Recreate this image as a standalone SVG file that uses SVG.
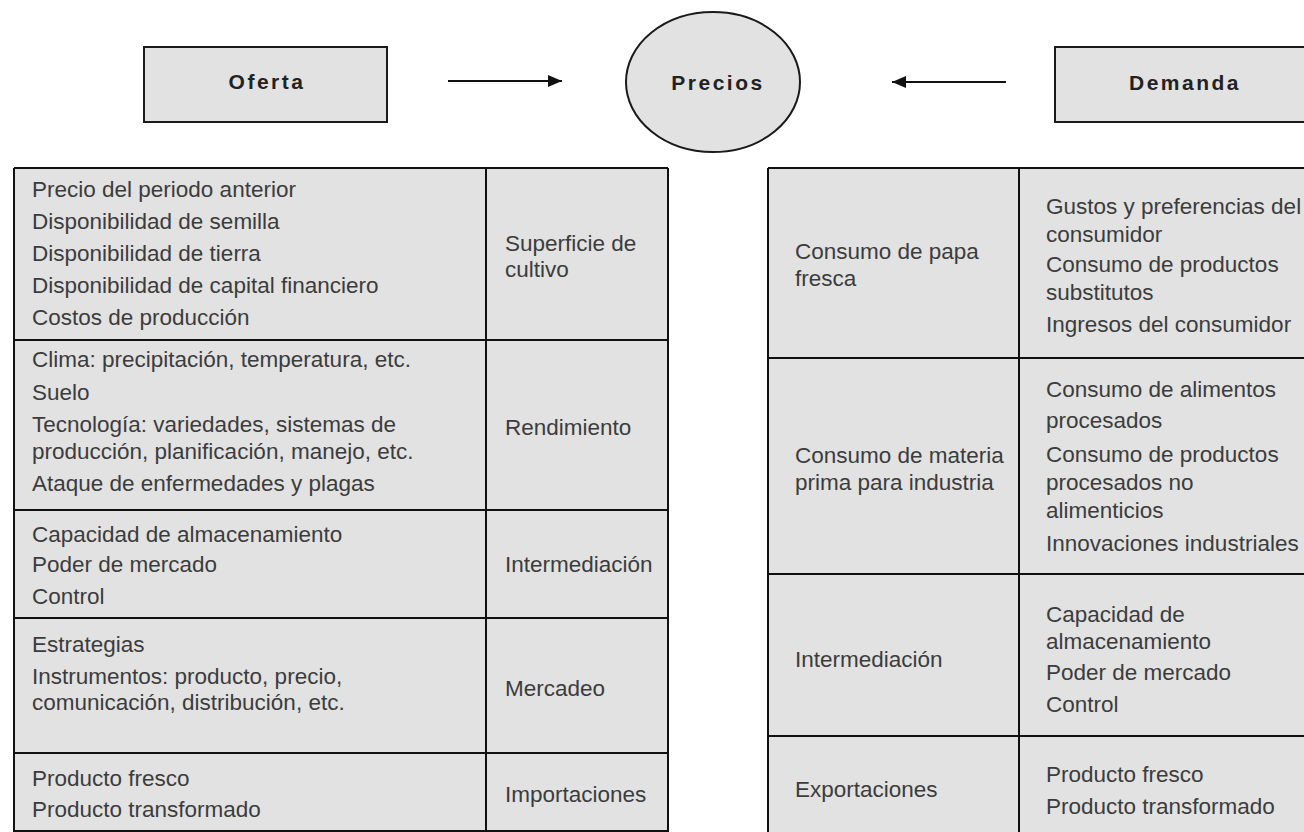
<svg xmlns="http://www.w3.org/2000/svg" width="1304" height="832" viewBox="0 0 1304 832">
  <defs>
    <marker id="arrow" viewBox="0 0 14 12" refX="14" refY="6" markerWidth="14" markerHeight="12" markerUnits="userSpaceOnUse" orient="auto">
      <path d="M0,0 L14,6 L0,12 z" fill="#111"/>
    </marker>
    <style>
      .box { fill: #e2e2e2; stroke: #1a1a1a; stroke-width: 2; }
      .cell { fill: #e2e2e2; stroke: none; }
      .grid { stroke: #111; stroke-width: 2; fill: none; }
      .title { font-family: "Liberation Sans", Arial, sans-serif; font-weight: bold; font-size: 21px; letter-spacing: 2.5px; fill: #222; text-anchor: middle; }
      .t { font-family: "Liberation Sans", Arial, sans-serif; font-size: 22.5px; fill: #3c3c3c; }
      .conn { stroke: #111; stroke-width: 2; fill: none; }
    </style>
  </defs>
  <rect width="1304" height="832" fill="#ffffff"/>

  <g id="oferta">
    <rect class="box" x="144" y="47" width="243" height="75"/>
    <text class="title" x="267" y="89">Oferta</text>
  </g>

  <g id="precios">
    <ellipse class="box" cx="713" cy="82" rx="87" ry="70"/>
    <text class="title" x="718" y="90">Precios</text>
  </g>

  <g id="demanda">
    <rect class="box" x="1055" y="47" width="260" height="75"/>
    <text class="title" x="1185" y="90">Demanda</text>
  </g>

  <g id="connectors">
    <line class="conn" x1="448" y1="81" x2="562" y2="81" marker-end="url(#arrow)"/>
    <line class="conn" x1="1006" y1="82" x2="892" y2="82" marker-end="url(#arrow)"/>
  </g>

  <g id="tabla-oferta">
    <rect class="cell" x="14" y="168" width="654" height="670"/>
    <path class="grid" d="M14,168 H668 M14,340 H668 M14,510 H668 M14,618 H668 M14,753 H668 M14,831 H668 M14,168 V832 M486,168 V832 M668,168 V832"/>
    <text class="t" x="32" y="197">Precio del periodo anterior</text>
    <text class="t" x="32" y="229">Disponibilidad de semilla</text>
    <text class="t" x="32" y="261">Disponibilidad de tierra</text>
    <text class="t" x="32" y="293">Disponibilidad de capital financiero</text>
    <text class="t" x="32" y="325">Costos de producción</text>
    <text class="t" x="505" y="251">Superficie de</text>
    <text class="t" x="505" y="277">cultivo</text>

    <text class="t" x="32" y="367">Clima: precipitación, temperatura, etc.</text>
    <text class="t" x="32" y="400">Suelo</text>
    <text class="t" x="32" y="432">Tecnología: variedades, sistemas de</text>
    <text class="t" x="32" y="459">producción, planificación, manejo, etc.</text>
    <text class="t" x="32" y="491">Ataque de enfermedades y plagas</text>
    <text class="t" x="505" y="435">Rendimiento</text>

    <text class="t" x="32" y="542">Capacidad de almacenamiento</text>
    <text class="t" x="32" y="572">Poder de mercado</text>
    <text class="t" x="32" y="604">Control</text>
    <text class="t" x="505" y="572">Intermediación</text>

    <text class="t" x="32" y="652">Estrategias</text>
    <text class="t" x="32" y="684">Instrumentos: producto, precio,</text>
    <text class="t" x="32" y="710">comunicación, distribución, etc.</text>
    <text class="t" x="505" y="696">Mercadeo</text>

    <text class="t" x="32" y="786">Producto fresco</text>
    <text class="t" x="32" y="817">Producto transformado</text>
    <text class="t" x="505" y="802">Importaciones</text>
  </g>

  <g id="tabla-demanda">
    <rect class="cell" x="768" y="168" width="540" height="670"/>
    <path class="grid" d="M768,168 H1310 M768,358 H1310 M768,574 H1310 M768,736 H1310 M768,168 V832 M1019,168 V832"/>
    <text class="t" x="795" y="259">Consumo de papa</text>
    <text class="t" x="795" y="286">fresca</text>
    <text class="t" x="1046" y="214">Gustos y preferencias del</text>
    <text class="t" x="1046" y="242">consumidor</text>
    <text class="t" x="1046" y="272">Consumo de productos</text>
    <text class="t" x="1046" y="300">substitutos</text>
    <text class="t" x="1046" y="332">Ingresos del consumidor</text>

    <text class="t" x="795" y="463">Consumo de materia</text>
    <text class="t" x="795" y="490">prima para industria</text>
    <text class="t" x="1046" y="397">Consumo de alimentos</text>
    <text class="t" x="1046" y="428">procesados</text>
    <text class="t" x="1046" y="462">Consumo de productos</text>
    <text class="t" x="1046" y="490">procesados no</text>
    <text class="t" x="1046" y="518">alimenticios</text>
    <text class="t" x="1046" y="551">Innovaciones industriales</text>

    <text class="t" x="795" y="667">Intermediación</text>
    <text class="t" x="1046" y="622">Capacidad de</text>
    <text class="t" x="1046" y="649">almacenamiento</text>
    <text class="t" x="1046" y="680">Poder de mercado</text>
    <text class="t" x="1046" y="712">Control</text>

    <text class="t" x="795" y="797">Exportaciones</text>
    <text class="t" x="1046" y="782">Producto fresco</text>
    <text class="t" x="1046" y="814">Producto transformado</text>
  </g>
</svg>
